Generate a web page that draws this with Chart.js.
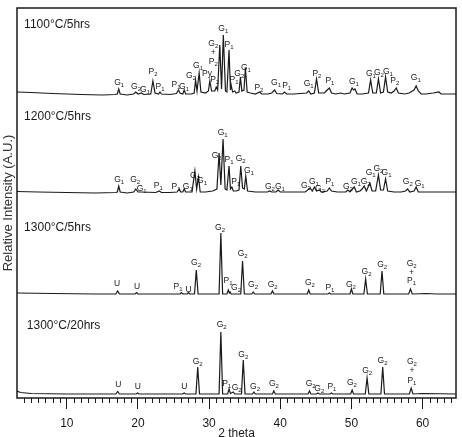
<!DOCTYPE html>
<html><head><meta charset="utf-8">
<script src="https://cdn.jsdelivr.net/npm/chart.js@4/dist/chart.umd.min.js"></script>
<style>html,body{margin:0;padding:0;background:#fff}#wrap{width:462px;height:437px}</style>
</head><body><div id="wrap"><canvas id="c" width="462" height="437"></canvas></div>
<script>
// ---- data (2theta, relative intensity above each pattern's own baseline) ----
const trace1100 = [[3,3],[5,2.5],[8,1.5],[12,0.5],[15,0],[16.8,0.5],[17.1,1],[17.3,6],[17.5,1],[18.5,0],[19.4,1],[19.7,3],[20,1],[20.5,2],[20.8,0.5],[21.8,1],[22.1,14],[22.4,2],[22.9,1],[23.1,3],[23.3,1],[24.5,0.5],[25.4,1.5],[25.7,5],[25.9,2],[26.3,1],[26.5,5],[26.7,1],[27.5,1],[27.9,2],[28.1,15],[28.3,4],[28.6,22],[28.85,3],[29.5,2],[29.9,4],[30.1,14],[30.35,4],[30.8,4],[31.0,8],[31.2,5],[31.5,50],[31.75,6],[32.0,60],[32.3,4],[32.5,3],[32.8,45],[33.0,5],[33.1,10],[33.3,3],[33.6,4],[33.8,2],[34.2,3],[34.4,18],[34.6,4],[34.9,5],[35.1,27],[35.35,3],[35.8,2],[36.5,1],[37.1,3],[37.4,1],[38.3,1],[38.8,2],[39.2,5],[39.5,1.5],[40.3,1],[40.6,3],[40.9,1],[42,1],[43.7,2],[44.0,4],[44.3,1],[44.8,2],[45.1,16],[45.4,2],[46.2,2],[46.6,5],[46.9,7],[47.2,2],[47.8,1],[48.5,2],[49,1],[49.8,2],[50.1,7],[50.3,5],[50.5,6],[50.8,1],[51.5,1],[52.4,2],[52.7,15],[53,2],[53.5,2],[53.8,16],[54.1,2],[54.5,3],[54.8,18],[55.1,3],[55.6,2],[56.0,4],[56.3,7],[56.6,2],[57.5,1],[58.1,2],[58.8,5],[59.1,9],[59.4,4],[59.8,1],[60.5,1],[61.5,2],[62.3,3],[62.6,1],[63.5,1],[64.7,1]];
const trace1200 = [[3,1.5],[6,1],[10,0.5],[14,0],[16.9,0.5],[17.1,1],[17.3,7],[17.5,1],[18.5,0],[19.4,1],[19.7,4],[20,1],[20.4,1],[22.5,0.5],[23,2],[23.3,0.5],[24.5,0.5],[25.5,1],[25.8,4],[26,1],[26.3,1],[26.5,4],[26.7,1],[27.6,1],[28,22],[28.25,4],[28.5,16],[28.75,1],[29.5,1],[30.5,2],[31.1,4],[31.4,40],[31.65,8],[31.96,54],[32.25,4],[32.5,3],[32.8,27],[33.0,4],[33.2,6],[33.4,2],[33.8,2],[34.2,3],[34.45,27],[34.7,5],[34.95,4],[35.15,17],[35.4,2],[36.5,1],[37.5,1],[38.2,1],[38.5,2],[38.8,1],[39.4,1],[39.7,3],[40,1],[41,1],[42.5,1],[43.5,1],[44.2,5],[44.5,2],[44.8,6],[45.1,2],[45.5,3],[45.8,1],[46.6,2],[46.9,5],[47.2,2],[48,1],[49.2,1],[49.5,3],[49.8,1],[50.4,6],[50.7,1],[51.2,2],[51.5,4],[51.8,7],[52.1,2],[52.6,10],[52.9,2],[53.4,2],[53.8,18],[54.1,3],[54.5,3],[54.8,14],[55.1,2],[56,1],[57,1],[57.6,2],[57.9,4],[58.2,1],[58.8,2],[59.1,6],[59.4,1],[60.5,1],[62,1],[64.7,1]];
const trace1300_5 = [[3,1],[8,0.5],[14,0],[16.9,0],[17.15,3],[17.4,0],[19.6,0],[19.8,1.5],[20,0],[25.9,0],[26.1,1.5],[26.3,0],[26.9,0],[27.1,1.5],[27.3,0],[27.95,0],[28.2,24],[28.45,0],[31.4,0],[31.65,61],[31.9,0],[32.5,0],[32.7,4],[32.85,1],[32.95,2],[33.1,0],[34.45,0],[34.7,33],[34.95,0],[36.0,0],[36.2,2],[36.4,0],[38.7,0],[38.9,3],[39.1,0],[43.8,0],[44.0,4],[44.2,0],[46.7,0],[46.9,1],[47.1,0],[49.8,0],[50.0,5],[50.2,0],[51.75,0],[52.0,15],[52.25,0],[54.05,0],[54.3,23],[54.55,0],[58.05,0],[58.3,5],[58.55,0],[60.5,0.5],[62,0],[64.7,0]];
const trace1300_20 = [[3,3],[3.5,1.5],[5,0.5],[10,0],[16.9,0],[17.15,2.5],[17.4,0],[19.75,0],[19.95,1],[20.15,0],[26.3,0],[26.5,1],[26.7,0],[28.15,0],[28.4,27],[28.65,0],[31.4,0],[31.65,62],[31.9,0],[32.6,0],[32.8,5],[33.0,0.5],[33.4,2],[33.6,0],[34.55,0],[34.8,34],[35.05,0],[36.1,0],[36.3,2],[36.5,0],[38.9,0],[39.1,3],[39.3,0],[43.9,0],[44.1,3],[44.3,0],[45.1,0],[45.3,1],[45.5,0],[47,0],[47.2,1],[47.4,0],[49.9,0],[50.1,4],[50.3,0],[51.95,0],[52.2,16],[52.45,0],[54.15,0],[54.4,27],[54.65,0],[58.15,0],[58.4,6],[58.65,0],[60,0.5],[64.7,0]];
const traceOffsets = [303, 205, 104, 4];
const panelTitles = ["1100°C/5hrs", "1200°C/5hrs", "1300°C/5hrs", "1300°C/20hrs"];
const xTickLabels = [10, 20, 30, 40, 50, 60];
// peak labels: [text, 2theta, height in stacked units]
const labels1100 = [["G1",17.35,315],["G2",19.73,311],["G1",21.0,308],["P2",22.12,326],["P1",23.1,311],["P1",25.35,313],["G1",26.47,311],["G2",27.46,322],["G1",28.44,332],["Py",29.7,324],["P2",30.8,318],["G2",30.59,354],["+",30.59,345],["P2",30.59,336],["G1",32.0,369],["P1",32.8,353],["P1",33.5,318],["G2",34.24,324],["G1",35.18,330],["P2",37.0,310],["G1",39.4,315],["P1",40.9,312],["G1",44.0,314],["P2",45.15,324],["P1",46.98,317],["G1",50.35,316],["G1",52.74,324],["G2",53.86,325],["G1",55.13,326],["P2",56.1,317],["G1",59.05,320]];
const labels1200 = [["G1",17.36,218],["G2",19.6,218],["G1",20.53,209],["P1",22.85,212],["P1",25.35,211],["G1",27.0,211],["G2",28.02,222],["G1",29.0,217],["G2",31.07,242],["G1",31.9,265],["P1",32.8,238],["G2",34.44,239],["G1",35.6,227],["P1",33.74,216],["G2",38.55,211],["G1",39.96,211],["G2",43.6,212],["G1",44.73,216],["G2",45.58,209],["P1",46.98,216],["G2",49.5,211],["G1",50.63,216],["G2",52.0,216],["G1",52.7,225],["G2",53.8,229],["G1",54.94,225],["G2",57.93,216],["G1",59.6,214]];
const labels1300_5 = [["U",17.07,114],["U",19.87,111],["P1",25.63,111],["U",27.13,108],["G2",28.16,135],["G2",31.53,170],["P1",32.65,117],["G2",33.78,110],["G2",34.72,144],["G2",36.17,113],["G2",38.93,113],["G2",44.17,115],["P1",46.98,110],["G2",49.93,113],["G2",52.13,126],["G2",54.33,133],["G2",58.46,134],["+",58.46,125],["P1",58.46,117]];
const labels1300_20 = [["U",17.25,13],["U",19.97,11],["U",26.52,11],["G2",28.4,36],["G2",31.77,73],["P1",32.47,14],["G2",33.88,10],["G2",34.8,43],["G2",36.45,11],["G2",39.1,14],["G2",44.27,14],["G2",45.48,9],["P1",47.26,11],["G2",50.07,15],["G2",52.22,27],["G2",54.38,37],["G2",58.5,36],["+",58.5,27],["P1",58.5,17]];
const titlePos = [[4.0,373],[4.0,281],[4.0,170],[4.38,72]];

const traces = [trace1100, trace1200, trace1300_5, trace1300_20];
const allLabels = [labels1100, labels1200, labels1300_5, labels1300_20];
const FONT = '"Liberation Sans", Arial, sans-serif';
const INK = '#1a1a1a';

const datasets = traces.map((t, i) => ({
  data: t.map(p => ({x: p[0], y: p[1] + traceOffsets[i]})),
  showLine: true, pointRadius: 0, borderWidth: 1.2, borderColor: INK, tension: 0, fill: false
}));

function drawPeakLabel(ctx, text, px, py) {
  const big = '8.5px ' + FONT, small = '6px ' + FONT;
  const parts = [...text].map(ch => ({ch, sub: /[0-9]/.test(ch)}));
  let w = 0;
  parts.forEach(p => { ctx.font = p.sub ? small : big; p.w = ctx.measureText(p.ch).width; w += p.w; });
  let x = px - w / 2;
  ctx.textAlign = 'left'; ctx.textBaseline = 'middle';
  parts.forEach(p => { ctx.font = p.sub ? small : big; ctx.fillText(p.ch, x, p.sub ? py + 2 : py); x += p.w; });
}

const overlay = {
  id: 'overlay',
  afterDatasetsDraw(chart) {
    const {ctx, chartArea: a, scales: {x, y}} = chart;
    ctx.save();
    ctx.strokeStyle = INK; ctx.lineWidth = 1.5;
    ctx.strokeRect(a.left, a.top, a.right - a.left, a.bottom - a.top);
    ctx.lineWidth = 1;
    for (let v = 4; v <= 64; v++) {
      if (v % 10 === 0) continue;
      const px = Math.round(x.getPixelForValue(v)) + 0.5;
      ctx.beginPath(); ctx.moveTo(px, a.bottom); ctx.lineTo(px, a.bottom + 5); ctx.stroke();
    }
    ctx.fillStyle = INK;
    allLabels.forEach(list => list.forEach(l => drawPeakLabel(ctx, l[0], x.getPixelForValue(l[1]), y.getPixelForValue(l[2]))));
    ctx.font = '12px ' + FONT; ctx.textAlign = 'left'; ctx.textBaseline = 'middle';
    panelTitles.forEach((t, i) => ctx.fillText(t, x.getPixelForValue(titlePos[i][0]), y.getPixelForValue(titlePos[i][1])));
    ctx.restore();
  }
};

new Chart(document.getElementById('c'), {
  type: 'scatter',
  data: {datasets},
  options: {
    responsive: false, animation: false, devicePixelRatio: 1,
    layout: {padding: {top: 8, right: 6, left: 0, bottom: 0}},
    plugins: {legend: {display: false}, tooltip: {enabled: false}},
    scales: {
      x: {
        type: 'linear', min: 3, max: 64.7, position: 'bottom',
        afterBuildTicks: s => { s.ticks = xTickLabels.map(v => ({value: v})); },
        afterFit: s => { s.height = 39; },
        ticks: {font: {size: 12, family: FONT}, color: INK, padding: 7, maxRotation: 0},
        grid: {display: true, drawOnChartArea: false, drawTicks: true, tickLength: 11, tickWidth: 1, tickColor: INK},
        border: {display: false},
        title: {display: true, text: '2 theta', font: {size: 12, family: FONT}, color: INK, padding: {top: 0, bottom: -4}}
      },
      y: {
        type: 'linear', min: 0, max: 390,
        afterFit: s => { s.width = 17; },
        ticks: {display: false}, grid: {display: false}, border: {display: false},
        title: {display: true, text: 'Relative Intensity (A.U.)', font: {size: 13, family: FONT}, color: '#333', padding: {top: 0.5, bottom: 0}}
      }
    }
  },
  plugins: [overlay]
});
</script></body></html>
